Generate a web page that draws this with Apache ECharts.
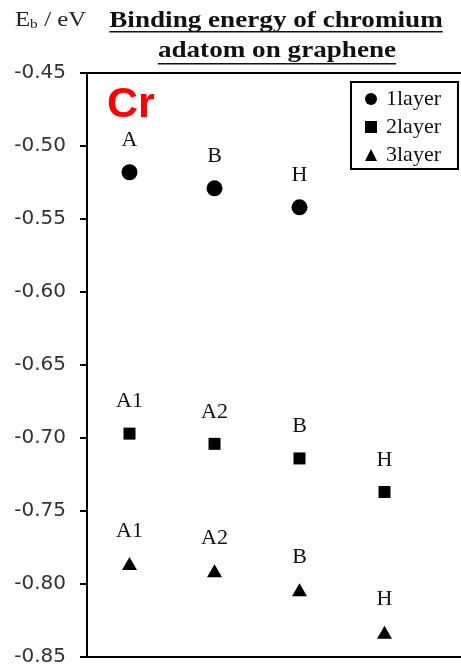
<!DOCTYPE html>
<html>
<head>
<meta charset="utf-8">
<script src="https://cdn.jsdelivr.net/npm/echarts@6/dist/echarts.min.js"></script>
<style>
html,body{margin:0;padding:0;background:#fff;}
#chart{width:461px;height:668px;}
</style>
</head>
<body>
<div id="chart"></div>
<script>
// ---- data ----
const layerNames = ['1layer', '2layer', '3layer'];
const sites1 = ['A', 'B', 'H'];
const eb1 = [-0.518, -0.529, -0.542];
const sites2 = ['A1', 'A2', 'B', 'H'];
const eb2 = [-0.697, -0.704, -0.714, -0.737];
const sites3 = ['A1', 'A2', 'B', 'H'];
const eb3 = [-0.786, -0.791, -0.804, -0.833];
const yMin = -0.85, yMax = -0.45, yStep = 0.05;
const titleLines = ['Binding energy of chromium', 'adatom on graphene'];
const elementLabel = 'Cr';

function toPoints(sites, vals) {
  return vals.map((v, i) => [i + 1, v, sites[i]]);
}

const serif = '"Liberation Serif", "Times New Roman", serif';
const SX = 1.18;

function measure(text, font) {
  const c = document.createElement('canvas').getContext('2d');
  c.font = font;
  return c.measureText(text).width;
}

const tFont = 'bold 23px "Liberation Serif"';
const w1 = measure(titleLines[0], tFont) * SX;
const w2 = measure(titleLines[1], tFont) * SX;
const tcx = 276;

const chart = echarts.init(document.getElementById('chart'));

function seriesOf(name, data, symbol, size, dist) {
  return {
    name: name,
    type: 'scatter',
    data: data,
    symbol: symbol,
    symbolSize: size,
    itemStyle: { color: '#000', opacity: 1 },
    label: {
      show: true,
      position: 'top',
      distance: dist,
      formatter: p => p.data[2],
      fontFamily: serif,
      fontSize: 22,
      color: '#111'
    },
    emphasis: { disabled: true }
  };
}

const axisLineStyle = { color: '#000', width: 2 };

chart.setOption({
  animation: false,
  backgroundColor: '#fff',
  grid: { left: 87, top: 73, right: 0, bottom: 11 },
  xAxis: [
    {
      type: 'value', min: 0.5, max: 4.9, position: 'bottom',
      axisLine: { show: true, onZero: false, lineStyle: axisLineStyle },
      axisTick: { show: false }, axisLabel: { show: false }, splitLine: { show: false }
    },
    {
      type: 'value', min: 0.5, max: 4.9, position: 'top',
      axisLine: { show: true, onZero: false, lineStyle: axisLineStyle },
      axisTick: { show: false }, axisLabel: { show: false }, splitLine: { show: false }
    }
  ],
  yAxis: {
    type: 'value', min: yMin, max: yMax, interval: yStep,
    axisLine: { show: true, lineStyle: axisLineStyle },
    axisTick: { show: true, length: 7, lineStyle: axisLineStyle },
    axisLabel: {
      margin: 21,
      formatter: v => v.toFixed(2),
      fontFamily: '"DejaVu Sans", sans-serif',
      fontSize: 20,
      color: '#333'
    },
    splitLine: { show: false }
  },
  legend: {
    orient: 'vertical',
    left: 351, top: 82,
    padding: [6, 17, 3, 14],
    itemGap: 6,
    itemWidth: 12, itemHeight: 12,
    borderColor: '#000', borderWidth: 2,
    backgroundColor: '#fff',
    itemStyle: { color: '#000', opacity: 1 },
    data: [
      { name: layerNames[0], icon: 'circle' },
      { name: layerNames[1], icon: 'rect' },
      { name: layerNames[2], icon: 'triangle' }
    ],
    textStyle: { fontFamily: serif, fontSize: 22, color: '#111', padding: [0, 0, 0, 4] }
  },
  series: [
    seriesOf(layerNames[0], toPoints(sites1, eb1), 'circle', 16, 13),
    seriesOf(layerNames[1], toPoints(sites2, eb2), 'rect', 12, 15),
    seriesOf(layerNames[2], toPoints(sites3, eb3), 'triangle', [15, 13], 15)
  ],
  graphic: [
    { type: 'text', x: tcx, y: 21, scaleX: SX,
      style: { text: titleLines[0], font: tFont, fill: '#111', textAlign: 'center', textVerticalAlign: 'middle' } },
    { type: 'rect', shape: { x: tcx - w1 / 2, y: 31, width: w1, height: 1.5 }, style: { fill: '#111' } },
    { type: 'text', x: tcx + 1, y: 51, scaleX: SX,
      style: { text: titleLines[1], font: tFont, fill: '#111', textAlign: 'center', textVerticalAlign: 'middle' } },
    { type: 'rect', shape: { x: tcx + 1 - w2 / 2, y: 63, width: w2, height: 1.5 }, style: { fill: '#111' } },
    { type: 'text', x: 15, y: 20, scaleX: SX,
      style: { text: 'E', font: '21px "Liberation Serif"', fill: '#222', textAlign: 'left', textVerticalAlign: 'middle' } },
    { type: 'text', x: 30, y: 25, scaleX: SX,
      style: { text: 'b', font: '13px "Liberation Serif"', fill: '#222', textAlign: 'left', textVerticalAlign: 'middle' } },
    { type: 'text', x: 38, y: 20, scaleX: SX,
      style: { text: ' / eV', font: '21px "Liberation Serif"', fill: '#222', textAlign: 'left', textVerticalAlign: 'middle' } },
    { type: 'text', x: 107, y: 105,
      style: { text: elementLabel, font: 'bold 43px "Liberation Sans"', fill: '#ff0000', textAlign: 'left', textVerticalAlign: 'middle' } }
  ]
});
</script>
</body>
</html>
